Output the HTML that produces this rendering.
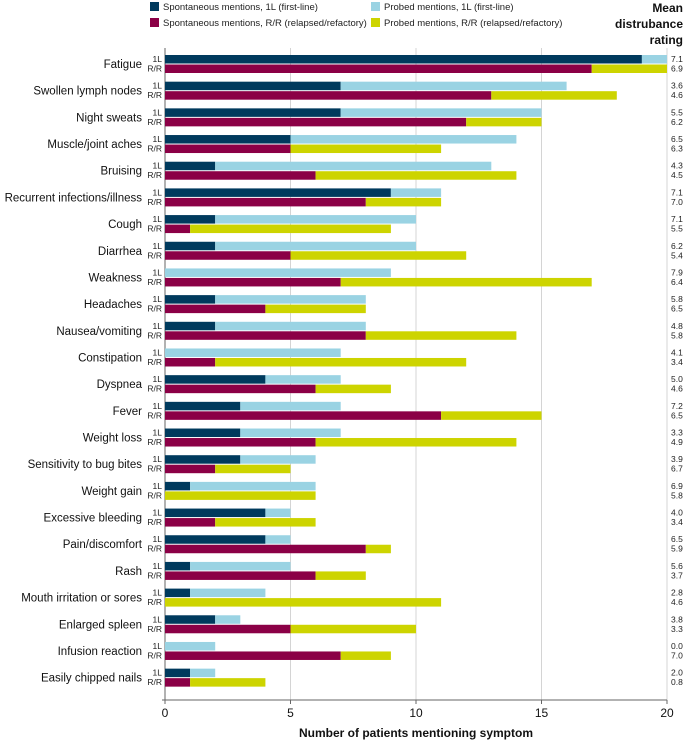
<!DOCTYPE html>
<html><head><meta charset="utf-8"><style>
body{margin:0;background:#fff;font-family:"Liberation Sans",sans-serif}
svg text{font-family:"Liberation Sans",sans-serif}
</style></head><body>
<svg id="c" width="685" height="740" xmlns="http://www.w3.org/2000/svg">
<g font-size="9.5" fill="#222">
<rect x="150" y="2" width="9" height="9" fill="#003a5d"/>
<text x="163" y="10">Spontaneous mentions, 1L (first-line)</text>
<rect x="150" y="18" width="9" height="9" fill="#8b0046"/>
<text x="163" y="26">Spontaneous mentions, R/R (relapsed/refactory)</text>
<rect x="371" y="2" width="9" height="9" fill="#9ad3e3"/>
<text x="384" y="10">Probed mentions, 1L (first-line)</text>
<rect x="371" y="18" width="9" height="9" fill="#cdd400"/>
<text x="384" y="26">Probed mentions, R/R (relapsed/refactory)</text>
</g>
<g font-size="12" font-weight="bold" text-anchor="end" fill="#111">
<text x="683" y="12">Mean</text><text x="683" y="28">distrubance</text><text x="683" y="44">rating</text>
</g>
<g id="grid"></g><g id="bars"></g><g id="labels"></g>
<text x="416" y="737" text-anchor="middle" font-size="12" font-weight="bold" fill="#111">Number of patients mentioning symptom</text>
</svg>
<script>
const symptoms=["Fatigue","Swollen lymph nodes","Night sweats","Muscle/joint aches","Bruising","Recurrent infections/illness","Cough","Diarrhea","Weakness","Headaches","Nausea/vomiting","Constipation","Dyspnea","Fever","Weight loss","Sensitivity to bug bites","Weight gain","Excessive bleeding","Pain/discomfort","Rash","Mouth irritation or sores","Enlarged spleen","Infusion reaction","Easily chipped nails"];
const spont1L=[19,7,7,5,2,9,2,2,0,2,2,0,4,3,3,3,1,4,4,1,1,2,0,1];
const total1L=[20,16,15,14,13,11,10,10,9,8,8,7,7,7,7,6,6,5,5,5,4,3,2,2];
const spontRR=[17,13,12,5,6,8,1,5,7,4,8,2,6,11,6,2,0,2,8,6,0,5,7,1];
const totalRR=[20,18,15,11,14,11,9,12,17,8,14,12,9,15,14,5,6,6,9,8,11,10,9,4];
const rating1L=["7.1","3.6","5.5","6.5","4.3","7.1","7.1","6.2","7.9","5.8","4.8","4.1","5.0","7.2","3.3","3.9","6.9","4.0","6.5","5.6","2.8","3.8","0.0","2.0"];
const ratingRR=["6.9","4.6","6.2","6.3","4.5","7.0","5.5","5.4","6.4","6.5","5.8","3.4","4.6","6.5","4.9","6.7","5.8","3.4","5.9","3.7","4.6","3.3","7.0","0.8"];
const xTicks=[0,5,10,15,20];
const NS="http://www.w3.org/2000/svg";
const X0=165,X1=667,xMax=20,top0=55,step=26.68,bh=8.5,yAxisTop=48,yAxisBot=700;
const x=v=>X0+(X1-X0)*v/xMax;
const rowY=i=>top0+i*step;
function mk(tag,attrs,parent,txt){const e=document.createElementNS(NS,tag);for(const k in attrs)e.setAttribute(k,attrs[k]);if(txt!==undefined)e.textContent=txt;parent.appendChild(e);return e;}
const grid=document.getElementById('grid'),bars=document.getElementById('bars'),labels=document.getElementById('labels');
xTicks.forEach(t=>{
 const l=mk('line',{x1:x(t),x2:x(t),y1:yAxisTop,y2:yAxisBot,stroke:t===0?'#666':'#d4d4d4','stroke-width':1},grid);
 
 
 const tk=mk('line',{x1:x(t),x2:x(t),y1:yAxisBot,y2:yAxisBot+4,stroke:'#666'},grid);
 
 
 const tx=mk('text',{x:x(t),y:717,'text-anchor':'middle','font-size':12,fill:'#111'},grid,String(t));
 
 
});
const ax=mk('line',{x1:X0-3,x2:X1,y1:yAxisBot,y2:yAxisBot,stroke:'#666'},grid);


symptoms.forEach((s,i)=>{
 const y=rowY(i);
 const segs=[[0,spont1L[i],'#003a5d',y,'bar-spont-1l'],[spont1L[i],total1L[i],'#9ad3e3',y,'bar-probed-1l'],[0,spontRR[i],'#8b0046',y+bh+1,'bar-spont-rr'],[spontRR[i],totalRR[i],'#cdd400',y+bh+1,'bar-probed-rr']];
 segs.forEach(([a,b,c,yy,n])=>{ if(b>a){const r=mk('rect',{x:x(a),y:yy,width:x(b)-x(a),height:bh,fill:c},bars);
  
  }});
 const t=mk('text',{x:142,y:y+bh+4.5,'text-anchor':'end','font-size':11.5,fill:'#111'},labels,s);
 
 
 const a=mk('text',{x:162,y:y+7,'text-anchor':'end','font-size':8.5,fill:'#222'},labels,'1L');
 
 
 const b=mk('text',{x:162,y:y+bh+8,'text-anchor':'end','font-size':8.5,fill:'#222'},labels,'R/R');
 
 
 const r1=mk('text',{x:671,y:y+7,'font-size':8.5,fill:'#222'},labels,rating1L[i]);
 
 
 const r2=mk('text',{x:671,y:y+bh+8,'font-size':8.5,fill:'#222'},labels,ratingRR[i]);
 
 
});
</script>
</body></html>
